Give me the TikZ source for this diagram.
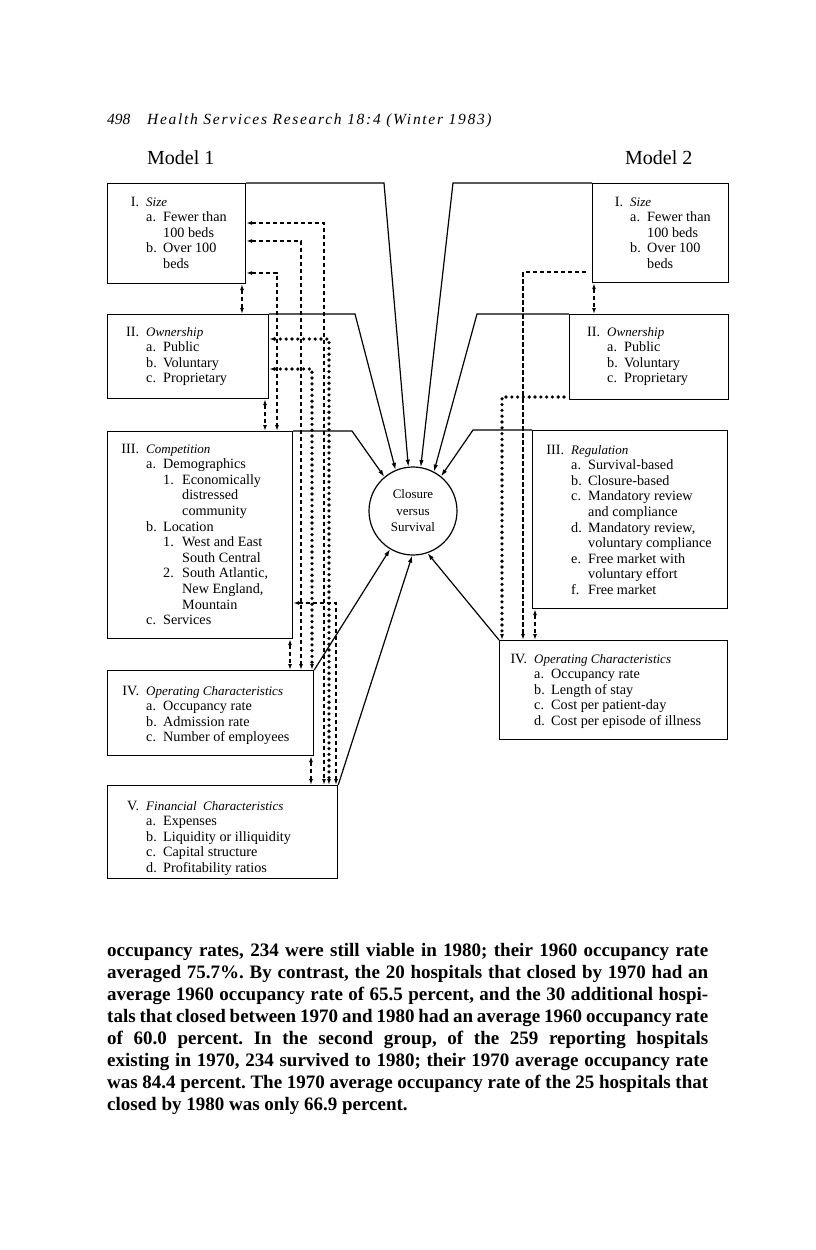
\documentclass[tikz,border=0pt]{standalone}
\usepackage{fontspec}
\setmainfont{Liberation Serif}
\newfontfamily\hdrfont[LetterSpace=11]{Liberation Serif}
\usetikzlibrary{arrows.meta,calc}
\newcommand{\hd}[2]{\leavevmode\llap{#1\hspace{7pt}}{\fontsize{13}{15.6}\selectfont\itshape #2}}
\newcommand{\ia}[2]{\makebox[17pt][l]{#1}#2}
\newcommand{\ic}{\hspace*{17pt}}
\newcommand{\ib}[2]{\hspace*{17pt}\makebox[19pt][l]{#1}#2}
\newcommand{\id}{\hspace*{36pt}}
\newcommand{\boxtext}[1]{\parbox[t]{250pt}{\fontsize{14.2}{15.6}\selectfont\raggedright\setlength{\parindent}{0pt}#1}}
\begin{document}
\begin{tikzpicture}[x=1pt,y=-1pt,
  box/.style={draw, line width=1.2pt, rectangle, inner sep=0pt, anchor=north west},
  lnk/.style={line width=1.2pt},
  tip/.style={-{Latex[length=7pt,width=4.5pt]}},
  dtip/.style={{Latex[length=6pt,width=4pt]}-{Latex[length=6pt,width=4pt]}},
  etip/.style={-{Latex[length=6pt,width=4pt]}},
  dsh/.style={line width=1.2pt, dash pattern=on 4.5pt off 2.5pt},
  dts/.style={line width=3.6pt, line cap=round, dash pattern=on 0pt off 5.8pt},
  txt/.style={anchor=base west, inner sep=0pt},
]
\useasboundingbox[fill=white] (0,0) rectangle (816,1250);

% header
\node[txt] (pg) at (107,124) {\fontsize{15.5}{15}\selectfont\itshape 498};
\node[txt] (hdr) at (147,124) {\hdrfont\itshape\fontsize{15.5}{15}\selectfont Health Services Research 18:4 (Winter 1983)};
\node[txt] (m1) at (147,164) {\fontsize{20}{20}\selectfont Model 1};
\node[txt] (m2) at (625,164) {\fontsize{20}{20}\selectfont Model 2};

% Model 1 boxes
\node[box, minimum width=138pt, minimum height=100pt] (L1) at (107,183) {};
\node[box, minimum width=161pt, minimum height=84pt] (L2) at (107,314) {};
\node[box, minimum width=185pt, minimum height=207pt] (L3) at (107,431) {};
\node[box, minimum width=206pt, minimum height=85pt] (L4) at (107,670) {};
\node[box, minimum width=230pt, minimum height=93pt] (L5) at (107,785) {};
% Model 2 boxes
\node[box, minimum width=136pt, minimum height=99pt] (R1) at (592,183) {};
\node[box, minimum width=159pt, minimum height=85pt] (R2) at (569,314) {};
\node[box, minimum width=195pt, minimum height=178pt] (R3) at (532,430) {};
\node[box, minimum width=228pt, minimum height=99pt] (R4) at (499,640) {};

% box texts
\node[txt] (L1t) at (146,206) {\boxtext{\hd{I.}{Size}\\ \ia{a.}{Fewer than}\\ \ic 100 beds\\ \ia{b.}{Over 100}\\ \ic beds}};
\node[txt] (L2t) at (146,336) {\boxtext{\hd{II.}{Ownership}\\ \ia{a.}{Public}\\ \ia{b.}{Voluntary}\\ \ia{c.}{Proprietary}}};
\node[txt] (L3t) at (146,453) {\boxtext{\hd{III.}{Competition}\\ \ia{a.}{Demographics}\\ \ib{1.}{Economically}\\ \id distressed\\ \id community\\ \ia{b.}{Location}\\ \ib{1.}{West and East}\\ \id South Central\\ \ib{2.}{South Atlantic,}\\ \id New England,\\ \id Mountain\\ \ia{c.}{Services}}};
\node[txt] (L4t) at (146,695) {\boxtext{\hd{IV.}{Operating Characteristics}\\ \ia{a.}{Occupancy rate}\\ \ia{b.}{Admission rate}\\ \ia{c.}{Number of employees}}};
\node[txt] (L5t) at (146,810) {\boxtext{\hd{V.}{Financial\ \ Characteristics}\\ \ia{a.}{Expenses}\\ \ia{b.}{Liquidity or illiquidity}\\ \ia{c.}{Capital structure}\\ \ia{d.}{Profitability ratios}}};
\node[txt] (R1t) at (630,206) {\boxtext{\hd{I.}{Size}\\ \ia{a.}{Fewer than}\\ \ic 100 beds\\ \ia{b.}{Over 100}\\ \ic beds}};
\node[txt] (R2t) at (607,336) {\boxtext{\hd{II.}{Ownership}\\ \ia{a.}{Public}\\ \ia{b.}{Voluntary}\\ \ia{c.}{Proprietary}}};
\node[txt] (R3t) at (571,454) {\boxtext{\hd{III.}{Regulation}\\ \ia{a.}{Survival-based}\\ \ia{b.}{Closure-based}\\ \ia{c.}{Mandatory review}\\ \ic and compliance\\ \ia{d.}{Mandatory review,}\\ \ic voluntary compliance\\ \ia{e.}{Free market with}\\ \ic voluntary effort\\ \ia{f.}{Free market}}};
\node[txt] (R4t) at (534,663) {\boxtext{\hd{IV.}{Operating Characteristics}\\ \ia{a.}{Occupancy rate}\\ \ia{b.}{Length of stay}\\ \ia{c.}{Cost per patient-day}\\ \ia{d.}{Cost per episode of illness}}};

% centre circle
\node[draw, circle, line width=1.2pt, minimum size=88pt, inner sep=0pt, align=center, font=\fontsize{13}{16.5}\selectfont] (C) at (413,511) {Closure\\versus\\Survival};

% lines to circle
\coordinate (k1) at (384,183);
\coordinate (k2) at (355,314);
\coordinate (k3) at (352,431);
\coordinate (q1) at (453,183);
\coordinate (q2) at (477,314);
\coordinate (q3) at (473,430);
\draw[lnk, tip] (L1.north east) -- (k1) -- (C.96);
\draw[lnk, tip] (L2.north east) -- (k2) -- (C.113.6);
\draw[lnk, tip] (L3.north east) -- (k3) -- (C.130);
\draw[lnk, tip] (L4.north east) -- (C.239.4);
\draw[lnk, tip] (L5.north east) -- (C.269);
\draw[lnk, tip] (R1.north west) -- (q1) -- (C.80);
\draw[lnk, tip] (R2.north west) -- (q2) -- (C.62.5);
\draw[lnk, tip] (R3.north west) -- (q3) -- (C.51.5);
\draw[lnk, tip] (R4.north west) -- (C.289.4);

% Model 1 dashed connectors
\draw[dsh, dtip] (L1.east |- 0,223) -- (324,223) -- (324,0 |- L5.north);
\draw[dsh, dtip] (L1.east |- 0,241) -- (301,241) -- (301,0 |- L4.north);
\draw[dsh, dtip] (L1.east |- 0,273) -- (277,273) -- (277,0 |- L3.north);
\draw[dsh, dtip] (242,0 |- L1.south) -- (242,0 |- L2.north);
\draw[dsh, dtip] (265,0 |- L2.south) -- (265,0 |- L3.north);
\draw[dsh, dtip] (290,0 |- L3.south) -- (290,0 |- L4.north);
\draw[dsh, dtip] (311,0 |- L4.south) -- (311,0 |- L5.north);
\draw[dsh, dtip] (L3.east |- 0,603) -- (336,603) -- (336,0 |- L5.north);
% Model 1 dotted connectors
\draw[dts, dtip] (L2.east |- 0,339) -- (329,339) -- (329,0 |- L5.north);
\draw[dts, dtip] (L2.east |- 0,369) -- (312,369) -- (312,0 |- L4.north);

% Model 2 connectors
\draw[dsh, dtip] (594,0 |- R1.south) -- (594,0 |- R2.north);
\draw[dsh, etip, shorten <=6pt] (R1.west |- 0,272) -- (523,272) -- (523,0 |- R4.north);
\draw[dts, etip, shorten <=5pt] (R2.west |- 0,397) -- (502,397) -- (502,0 |- R4.north);
\draw[dsh, dtip] (535,0 |- R3.south) -- (535,0 |- R4.north);

% paragraph
\node[txt] (para) at (107,956) {\parbox[t]{601pt}{\fontsize{19}{22}\selectfont\bfseries\frenchspacing\setlength{\parindent}{0pt}%
\makebox[601pt][s]{occupancy rates, 234 were still viable in 1980; their 1960 occupancy rate}\\
\makebox[601pt][s]{averaged 75.7\%. By contrast, the 20 hospitals that closed by 1970 had an}\\
\makebox[601pt][s]{average 1960 occupancy rate of 65.5 percent, and the 30 additional hospi-}\\
\makebox[601pt][s]{tals that closed between 1970 and 1980 had an average 1960 occupancy rate}\\
\makebox[601pt][s]{of 60.0 percent. In the second group, of the 259 reporting hospitals}\\
\makebox[601pt][s]{existing in 1970, 234 survived to 1980; their 1970 average occupancy rate}\\
\makebox[601pt][s]{was 84.4 percent. The 1970 average occupancy rate of the 25 hospitals that}\\
closed by 1980 was only 66.9 percent.}};
\end{tikzpicture}
\end{document}
